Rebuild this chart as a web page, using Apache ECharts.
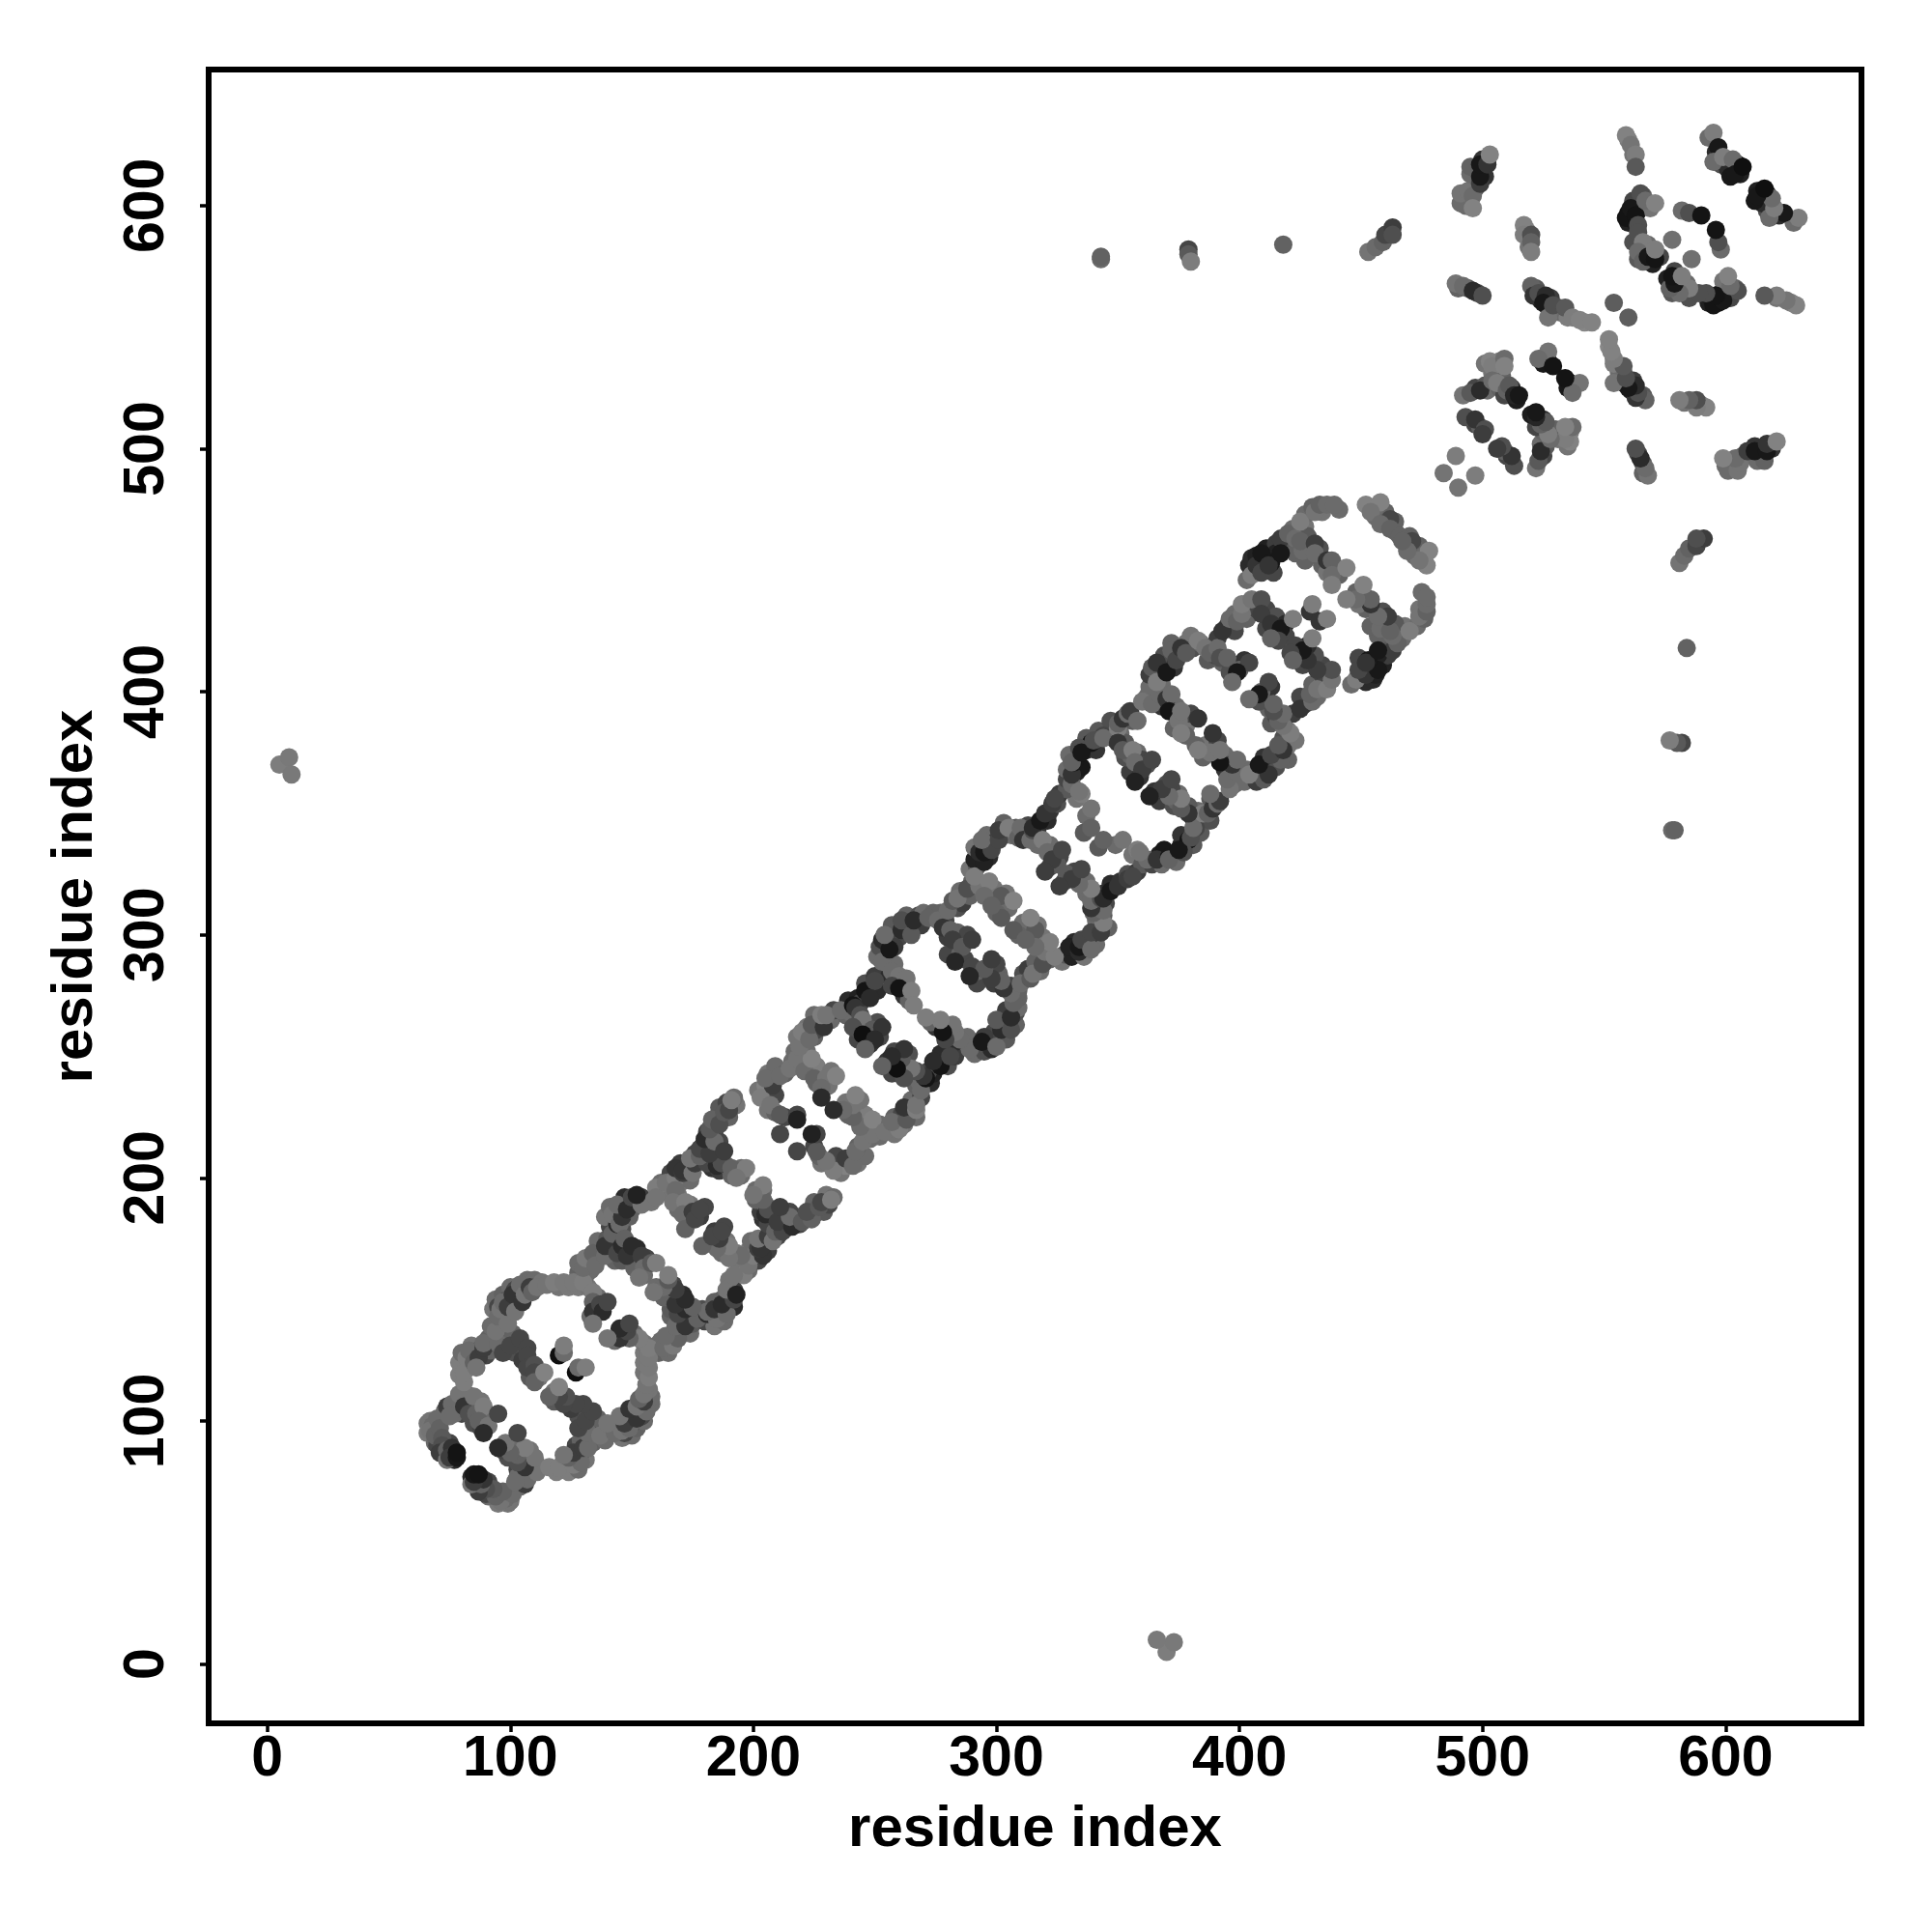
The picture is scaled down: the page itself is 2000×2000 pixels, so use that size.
<!DOCTYPE html>
<html>
<head>
<meta charset="utf-8">
<style>html,body{margin:0;padding:0;background:#fff}#c{width:2000px;height:2000px}</style>
<script src="https://cdn.jsdelivr.net/npm/echarts@6/dist/echarts.min.js"></script>
</head>
<body>
<div id="c"></div>
<script>
// Contact map: each entry is [residue i, residue j, gray level]; the map is symmetric in i and j.
const tickLabels = [0, 100, 200, 300, 400, 500, 600];
const axisTitle = "residue index";

const repeatA = [[67,100,110],[68,98,100],[67,96,110],[70,101,100],[69,94,90],[71,97,90],[72,93,80],[72,90,70],[73,87,50],[71,87,50],[74,84,110],[74,88,90],[76,89,40],[75,85,50],[78,85,10],[78,87,5],
[74,106,50],[76,107,100],[75,102,100],[79,111,110],[81,106,40],[85,110,110],[83,103,70],[86,103,90],[89,106,120],[87,100,90],[91,98,110],[95,103,60],[89,95,30],
[81,116,120],[81,120,120],[82,126,120],[83,129,100],[85,124,90],[87,126,50],[86,122,110],[89,130,50],[89,132,100],[95,132,100],[94,137,110],[95,143,100],[96,146,110],[97,128,60],[100,131,60],[99,140,110],[104,134,60],[107,130,60],[107,127,60],[107,122,60],[110,123,70],[110,120,60],[110,116,90],[114,120,125],[120,127,0],[122,128,100],[122,131,120]];

const repeatB = [[97,149,100],[99,147,50],[101,152,40],[102,145,110],[105,149,40],[104,156,100],[106,152,110],[108,155,50],[109,153,90],[111,155,110],[115,156,110],[118,157,120],[122,157,115],[126,157,115],[130,157,120],[134,153,120],[134,149,90],[134,145,40],[137,148,60],[138,145,30],[140,149,60],[134,140,110],
[130,163,100],[131,167,115],[134,169,90],[135,164,100],[139,168,100],[139,172,40],[142,177,90],[144,181,30],[142,185,110],[145,181,100],[146,184,40],[144,189,100],[150,187,90],[148,187,30],[150,192,60],[154,189,110],[152,193,20],
[144,169,60],[146,172,30],[147,175,90],[148,168,40],[150,172,30],[154,168,50],[155,163,100],[153,159,110],[158,165,80],[160,165,120]];

const repeatC = [[160,196,120],[160,192,110],[164,198,110],[168,200,120],[168,195,100],[167,190,110],[168,204,40],[171,202,50],[172,190,120],[171,185,100],[172,179,90],[171,203,40],[175,186,50],[176,183,60],[178,187,60],[175,202,110],[176,206,50],
[181,206,60],[185,205,30],[187,206,70],[191,204,90],[195,201,100],[197,204,120],[193,200,110],
[174,208,110],[178,209,90],[178,212,60],[182,210,50],[180,216,30],[184,215,100],[182,220,80],[183,224,90],[186,222,70],[188,211,50],[188,227,80],[190,228,60],[192,233,100],[191,232,120]];

const repeatD = [[205,238,125],[203,233,120],[207,230,110],[208,238,50],[211,226,80],[218,226,60],[218,224,20],[211,218,60],[205,241,100],[211,242,100],[215,245,110],[218,249,110],[221,244,100],[224,249,125],[225,241,90],[230,241,110],[234,242,125],[228,237,100],[228,233,30],[219,254,110],[220,260,120],[223,257,100],
[224,263,80],[229,262,40],[228,267,120],[230,267,110],[236,269,100],[241,271,5],[242,270,40],[244,267,70],[246,277,5],[248,274,30],[250,281,60],
[245,265,110],[241,262,70],[249,261,80],[253,262,40],[245,259,0],[250,257,30],[246,253,90]];

const repeatE = [[253,289,100],[257,285,100],[258,295,50],[256,294,10],[254,300,100],[261,302,30],[261,306,70],[265,300,80],[266,306,30],[272,307,90],[260,283,110],[263,282,110],[257,279,60],[260,278,5],[265,277,120],[266,271,120],
[276,306,100],[278,303,40],[281,302,90],[280,310,100],[282,314,80],[284,315,110],[288,319,70],[282,298,50],[286,295,80],[290,298,50],[283,289,25],
[293,320,110],[291,324,120],[295,330,20],[293,334,30],[295,334,10],[298,335,60],[294,339,100],[301,339,60],[301,343,50],[305,344,120],[297,322,120],[302,316,80],[307,314,125],[302,307,80],[295,316,100],[298,312,90]];

const repeatF = [[309,340,90],[310,344,100],[311,339,40],[314,339,100],[315,343,70],[315,344,30],[318,347,10],[320,350,40],[323,354,50],[324,356,60],[319,339,120],[321,334,100],[323,331,50],[320,326,50],[327,335,60],
[339,344,90],[339,352,110],[335,358,120],[331,362,100],[334,359,110],[331,366,40],[332,371,10],[339,379,5],[344,382,60],
[334,377,70],[331,371,90],[335,375,10],[340,380,70],[344,381,100],[350,385,120],[350,387,90],[352,389,40],[354,391,100],[355,392,50],[358,388,100],[360,396,110],[350,379,40],[352,376,80],[356,376,120],[357,371,100],[360,368,50],[364,372,60],[357,363,20]];

const repeatG = [[364,395,100],[367,399,100],[368,403,100],[366,404,120],[366,412,40],[370,408,10],[372,417,90],[374,413,60],[376,418,40],[378,416,80],[383,421,120],
[370,397,40],[372,399,100],[371,392,5],[375,388,110],[376,392,110],[376,383,120],[383,389,40],
[386,418,110],[388,416,90],[391,418,100],[392,414,70],[395,414,90],[393,425,40],[396,430,100],[399,429,90],[401,432,110],[401,436,120],[400,409,90],[404,412,60],[399,408,10],[397,404,100]];

const repeatH = [[405,448,120],[407,452,40],[409,449,60],[409,457,10],[413,453,10],[412,452,40],[417,463,50],[417,457,10],[420,465,90],[423,463,100],[425,470,120],[431,474,110],[433,477,90],[436,477,100],[439,477,100],
[405,438,110],[409,438,70],[409,432,50],[413,428,40],[417,426,10],[422,430,120],[416,421,60],[413,422,90],[429,433,40],[430,436,120],
[427,454,90],[426,458,100],[425,462,90],[431,461,50],[431,457,100],[436,454,40],[438,454,90],[438,448,100],[438,444,120],[444,451,125],
[452,477,125],[458,478,125],[454,474,110],[462,471,60],[458,469,100],[462,467,90]];

const distantContacts = [[5,370,120],[9,373,115],[10,366,115],[343,578,100],[343,579,90],[379,582,60],[379,580,80],[380,577,120],[418,584,90],
[453,581,110],[456,583,100],[459,585,90],[460,588,60],[463,591,50],[463,588,70]];

const cTerminal = [[491,601,100],[491,605,110],[494,606,110],[495,613,100],[495,616,90],[496,604,100],[496,599,125],[499,609,50],[499,612,10],[499,617,10],[502,617,40],[503,621,125],
[517,592,125],[517,588,120],[520,588,70],[520,585,90],[520,581,120],
[489,568,110],[492,567,100],[496,565,30],[500,563,70],
[520,567,90],[521,563,40],[523,564,70],[526,563,30],[525,560,10],[527,554,110],[529,559,70],[534,558,80],[537,554,120],[540,553,125],[545,552,125],[554,560,85],
[559,629,125],[561,625,110],[563,621,120],[563,616,80],
[565,605,70],[559,595,5],[561,599,10],[563,596,5],[567,602,100],[571,601,125],[564,592,70],[564,589,70],[566,585,120],[564,581,100],[566,577,90],[568,579,10],[571,578,5],[571,582,120],
[578,586,105],[582,598,100],[585,597,70],[590,596,5],
[595,630,120],[597,624,10],[595,618,100],[599,620,120],[603,619,100],[604,613,10],[607,616,0],
[503,536,125],[504,534,120],[509,537,100],[509,534,125],[527,540,110],[523,537,100],[529,534,5],
[492,522,110],[495,523,80],[499,524,30],[504,528,100],[506,527,120],[510,524,90],[511,526,80],[513,522,25],[515,522,10],
[493,513,70],[497,512,40],[501,508,70],[500,506,50],[484,490,110],[489,497,120]];

// Further contacts hidden beneath the ones above; they make up the thickness of the band.
const bandLowerA = [[66,99,110],[66,95,115],[69,91,100],[70,90,60],[73,91,80],[75,91,60],[77,84,30],[73,104,100],[78,108,90],[82,111,100],[84,107,60],[88,108,110],[85,99,70],[90,101,100],[88,97,60],[80,103,60],[77,103,100],
[79,119,120],[79,124,120],[80,128,100],[84,127,70],[84,131,110],[87,129,40],[90,127,60],[91,134,90],[92,129,90],[92,139,100],[93,146,110],[97,135,100],[97,141,90],[99,134,70],[101,136,90],[102,128,70],[105,125,50],[108,118,80],[112,118,110],
[94,150,100],[95,147,60],[97,152,90],[99,150,40],[100,155,100],[102,154,60],[103,151,30],[106,155,70],[107,158,100],[110,158,100],[113,157,110],[120,155,110],[124,155,115],[128,155,115],[132,155,110],[131,160,100],[136,151,100],[136,146,60],[133,143,100],
[128,161,90],[128,165,100],[133,165,60],[133,162,100],[136,167,70],[137,171,60],[136,174,100],[140,175,80],[141,180,60],[139,184,110],[141,188,100],[146,179,70],[147,188,50],[149,184,90],[147,192,30],[151,190,40],[154,192,50],
[142,172,50],[143,166,90],[146,166,80],[150,169,40],[152,171,30],[152,165,80],[156,167,60],[151,163,90],[155,160,100]];

const bandLowerB = [[158,190,110],[162,194,110],[162,198,100],[166,197,110],[166,202,60],[170,198,110],[170,206,50],[173,204,40],[174,199,100],[169,193,110],[169,187,100],[174,189,110],[174,183,90],[178,184,50],[180,188,60],
[179,207,40],[183,204,40],[183,208,70],[186,203,50],[189,205,90],[193,203,70],[191,201,90],[195,204,100],
[176,210,60],[179,213,40],[181,212,100],[181,219,60],[184,219,80],[185,225,70],[187,224,90],[186,229,80],[189,231,60],[193,230,110],[190,225,90],[184,213,30],[186,215,60],
[202,236,110],[205,235,90],[206,228,110],[209,234,60],[213,225,60],[209,227,90],[206,243,110],[209,246,100],[213,243,90],[216,248,100],[217,252,100],[222,252,100],[219,246,80],[228,243,100],[226,246,120],[231,238,110],[226,239,90],[232,244,110],[218,258,110],[222,262,110],[225,258,90],[226,261,60],
[225,267,100],[232,265,100],[233,269,60],[238,267,90],[239,273,30],[243,274,20],[244,272,60],[240,268,100],[248,278,40],[246,280,70],[251,277,30],[250,283,50],[243,262,90],[247,262,40],[251,264,70],[252,258,60],[243,257,60],[248,255,40]];

const bandLowerC = [[251,291,100],[252,295,70],[255,290,80],[256,297,20],[253,298,30],[258,300,40],[257,304,80],[260,299,60],[263,304,20],[263,308,90],[268,308,70],[269,304,50],[262,280,80],[258,281,80],[262,275,40],[264,273,90],[256,283,30],[258,288,100],[270,309,100],
[274,309,90],[277,309,90],[279,306,60],[280,299,50],[284,301,90],[284,311,70],[286,313,50],[289,316,90],[280,292,60],[285,292,90],[288,300,60],[287,290,60],[285,318,100],
[290,322,90],[289,327,110],[292,328,80],[291,331,20],[296,336,30],[291,336,110],[297,332,30],[296,341,100],[299,338,50],[303,341,60],[303,346,90],[299,319,110],[300,314,70],[305,311,100],[304,317,110],[300,309,90],
[306,341,100],[308,344,80],[312,342,50],[313,345,60],[316,341,90],[317,344,40],[321,347,30],[322,351,40],[325,354,70],[326,358,50],[317,337,100],[322,337,100],[326,332,60],[322,328,60],[325,329,80],[336,342,80],[337,349,100],[333,356,110],[329,360,80],[329,364,60],[333,367,20],[335,369,10],[337,376,30],[341,376,40],[342,384,80],[347,383,100],[329,368,100],[332,373,50],[330,374,100],[337,381,80],[347,388,70],[351,383,100],[356,388,80],[348,381,40],[353,379,80],[358,375,100],[360,372,60],[362,370,70],[355,367,50],[359,365,40],[353,373,70],[355,374,90]];

const bandLowerD = [[362,398,100],[363,402,100],[363,407,50],[364,410,80],[369,412,40],[369,415,70],[373,410,40],[375,415,50],[372,420,90],[378,420,110],[381,418,70],[380,423,110],[368,394,40],[374,394,100],[373,385,90],[378,386,110],[378,382,90],[380,391,60],
[384,420,100],[387,413,80],[390,415,60],[393,412,90],[396,412,70],[395,427,50],[391,422,50],[398,425,60],[398,432,100],[403,430,90],[403,434,110],[398,411,30],[402,413,40],[396,408,70],
[403,446,100],[404,452,30],[405,455,30],[407,456,20],[411,459,20],[411,455,10],[415,461,50],[415,457,20],[414,449,60],[419,461,80],[422,467,100],[427,468,110],[427,473,100],[430,476,90],[434,474,110],[441,475,100],[403,436,90],[407,434,60],[411,434,60],[415,431,70],[415,426,30],[419,428,30],[419,423,60],[411,426,60],
[423,457,90],[428,460,50],[433,459,70],[434,452,90],[440,451,100],[441,448,90],[436,449,110],[428,464,80],
[456,472,100],[460,474,90],[460,469,40],[464,470,90],[464,466,90],[456,476,100]];

const cTerminalLower = [[493,603,100],[497,607,80],[497,613,30],[497,615,30],[500,614,30],[500,619,40],[501,612,40],[493,600,100],
[518,590,120],[519,583,110],[490,566,90],[494,566,80],[498,564,60],
[522,566,80],[524,561,20],[526,560,40],[527,558,40],[528,562,50],[531,558,70],[532,556,100],[535,554,120],[542,552,130],
[560,627,120],[562,621,110],[562,602,60],[560,597,5],[560,593,20],[562,594,10],[564,598,20],[566,604,90],[569,599,110],[562,585,70],[568,584,100],[569,580,20],[567,580,30],[564,578,80],[570,576,20],[573,579,60],
[593,628,100],[596,622,30],[598,617,70],[600,618,60],[601,615,30],[602,612,10],[605,617,10],[606,613,20],
[505,535,120],[507,536,120],[504,531,110],[501,535,110],[525,535,10],[527,536,10],[526,538,90],
[497,525,60],[501,526,80],[502,524,100],[507,525,90],[509,522,60],[512,525,30],[514,520,15],[508,530,90],[497,510,60],[499,509,90]];

const halfMap = [].concat(bandLowerA, bandLowerB, bandLowerC, bandLowerD, cTerminalLower, repeatA, repeatB, repeatC, repeatD, repeatE, repeatF, repeatG, repeatH, distantContacts, cTerminal);
const gray = g => { const v = Math.round(g * 0.92 + 15); return `rgb(${v},${v},${v})`; };
const points = [];
halfMap.forEach(([i, j, g]) => points.push({value: [i, j], itemStyle: {color: gray(g), opacity: 1}}));
halfMap.forEach(([i, j, g]) => points.push({value: [j, i], itemStyle: {color: gray(g), opacity: 1}}));

const font = "'Liberation Sans', Arial, sans-serif";
const chart = echarts.init(document.getElementById('c'), null, {renderer: 'canvas'});
chart.setOption({
  animation: false,
  backgroundColor: '#fff',
  grid: {left: 216, right: 73, top: 72, bottom: 216, show: true, borderColor: '#000', borderWidth: 6, backgroundColor: 'transparent'},
  xAxis: {
    type: 'value', min: -24.1, max: 655.9,
    name: axisTitle, nameLocation: 'middle', nameGap: 80,
    nameTextStyle: {fontFamily: font, fontWeight: 'bold', fontSize: 60, color: '#000'},
    axisLine: {show: false, onZero: false}, splitLine: {show: false},
    axisTick: {show: true, length: 9, lineStyle: {color: '#000', width: 3.5}, customValues: tickLabels},
    axisLabel: {fontFamily: font, fontWeight: 'bold', fontSize: 59, color: '#000', margin: 8, customValues: tickLabels}
  },
  yAxis: {
    type: 'value', min: -24.4, max: 656,
    name: axisTitle, nameLocation: 'middle', nameGap: 108,
    nameTextStyle: {fontFamily: font, fontWeight: 'bold', fontSize: 60, color: '#000'},
    axisLine: {show: false, onZero: false}, splitLine: {show: false},
    axisTick: {show: true, length: 9, lineStyle: {color: '#000', width: 3.5}, customValues: tickLabels},
    axisLabel: {fontFamily: font, fontWeight: 'bold', fontSize: 59, color: '#000', margin: 34, rotate: 90, align: 'center', verticalAlign: 'bottom', customValues: tickLabels}
  },
  series: [{type: 'scatter', symbol: 'circle', symbolSize: 19, clip: false, data: points, silent: true}]
});
</script>
</body>
</html>
